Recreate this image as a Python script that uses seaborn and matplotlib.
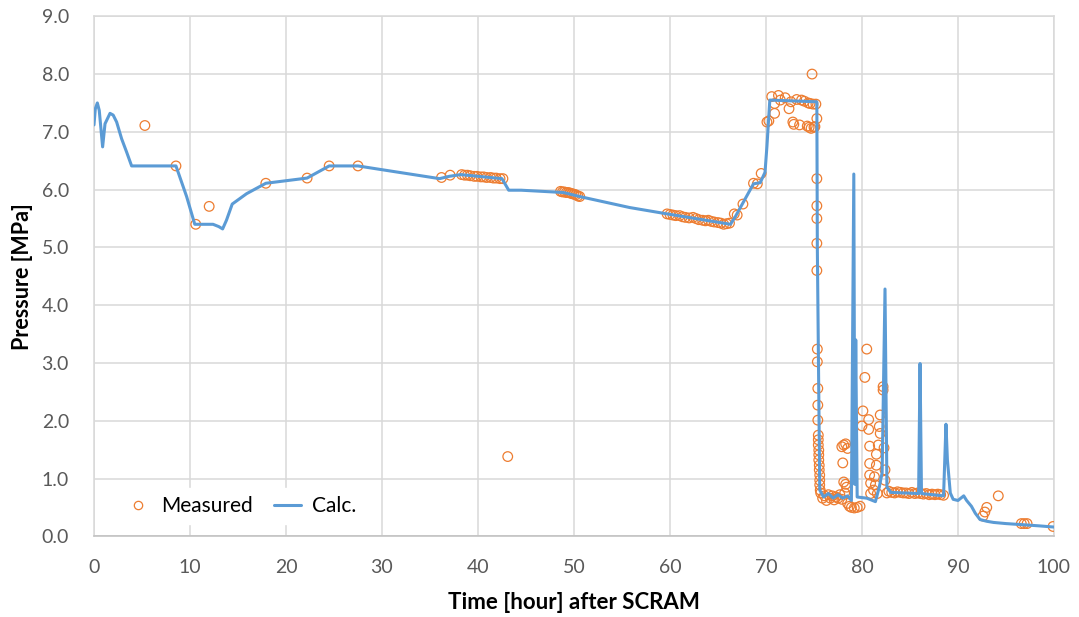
import matplotlib
matplotlib.use("Agg")
import matplotlib.pyplot as plt
import seaborn as sns
import pandas as pd
from matplotlib.lines import Line2D

# ---- Calculated pressure history ----
calc_time = [0.0, 0.14, 0.35, 0.55, 0.9, 1.15, 1.67, 2.0, 2.36, 2.88, 3.4, 3.92,
             8.54, 9.65, 10.5, 12.4, 13.0, 13.4, 13.8, 14.4, 15.9, 17.9, 22.2,
             24.5, 27.5, 29.8, 36.0, 37.0, 38.2, 42.5, 43.2, 44.5, 48.9, 50.6,
             55.8, 59.7, 66.3, 66.8, 67.7, 68.7, 69.4, 69.9, 70.1, 70.4, 75.3,
             75.35, 75.6, 76.0, 76.5, 77.0, 77.5, 78.0, 78.5, 78.9, 79.15, 79.25,
             79.35, 79.5, 80.5, 81.4, 81.8, 82.1, 82.4, 82.6, 83.0, 85.9, 86.05,
             86.2, 88.5, 88.75, 88.9, 89.2, 89.5, 90.0, 90.3, 90.6, 90.9, 91.4,
             91.8, 92.3, 93.0, 93.7, 95.0, 96.8, 98.5, 100.0]
calc_pressure = [7.12, 7.40, 7.50, 7.37, 6.74, 7.14, 7.32, 7.29, 7.17, 6.88, 6.65, 6.41,
                 6.41, 5.88, 5.40, 5.40, 5.36, 5.32, 5.47, 5.75, 5.93, 6.11, 6.20,
                 6.41, 6.41, 6.35, 6.19, 6.23, 6.26, 6.19, 5.99, 5.99, 5.95, 5.88,
                 5.69, 5.58, 5.40, 5.53, 5.80, 6.10, 6.12, 6.30, 6.75, 7.55, 7.52,
                 5.00, 0.80, 0.68, 0.74, 0.66, 0.72, 0.66, 0.70, 0.62, 6.27, 0.90,
                 3.40, 0.68, 0.66, 0.60, 0.85, 1.10, 4.28, 0.85, 0.76, 0.74, 2.99,
                 0.74, 0.70, 1.94, 1.32, 0.75, 0.64, 0.62, 0.66, 0.70, 0.62, 0.52,
                 0.40, 0.29, 0.26, 0.24, 0.22, 0.20, 0.18, 0.16]

# ---- Measured pressure ----
measured_time = [
    5.3, 8.54, 10.6, 12.0, 17.9, 22.2, 24.5, 27.5,
    36.2, 37.1, 38.3, 38.6, 38.9, 39.2, 39.6, 39.9, 40.3, 40.6, 40.9, 41.3,
    41.6, 41.9, 42.3, 42.6, 43.1,
    48.6, 48.8, 49.0, 49.2, 49.4, 49.6, 49.8, 50.0, 50.2, 50.4, 50.6,
    59.7, 60.0, 60.3, 60.6, 61.0, 61.3, 61.6, 62.0, 62.4, 62.7, 63.0, 63.4,
    63.7, 64.0, 64.3, 64.6, 65.0, 65.3, 65.6, 65.9, 66.2,
    66.7, 67.0, 67.6, 68.7, 69.1, 69.5, 70.1, 70.3,
    70.6, 70.9, 70.9, 71.3, 71.5, 72.0, 72.4, 72.6, 72.8, 72.9, 73.2, 73.5,
    73.7, 74.0, 74.3, 74.4, 74.5, 74.6, 74.7, 74.8, 74.9, 75.0, 75.1, 75.2,
    75.3, 75.3, 75.3, 75.3, 75.3, 75.3, 75.35, 75.35, 75.4, 75.4, 75.4,
    75.45, 75.45, 75.45, 75.5, 75.5, 75.5, 75.55, 75.55, 75.6, 75.6, 75.6, 75.65,
    75.7, 75.9, 76.1, 76.3, 76.5, 76.7, 76.9, 77.1, 77.3, 77.5, 77.7, 77.9,
    77.9, 78.1, 78.3, 78.5, 78.0, 78.1, 78.3, 78.4, 78.2,
    78.5, 78.7, 78.9, 79.2, 79.5, 79.8,
    80.5, 80.3, 80.1, 80.7, 80.0, 80.7, 80.8, 80.8, 80.8, 80.9, 80.9, 81.2,
    81.5, 81.5, 81.3, 81.4, 81.6,
    82.2, 82.2, 81.9, 81.8, 81.9, 81.7, 82.3, 82.4, 82.4, 82.6,
    82.8, 83.1, 83.4, 83.7, 84.0, 84.3, 84.6, 84.9, 85.2, 85.5, 85.8, 86.1,
    86.4, 86.7, 87.0, 87.3, 87.6, 87.9, 88.2, 88.5,
    92.6, 92.8, 93.0, 94.2, 96.6, 96.9, 97.2, 99.9]
measured_pressure = [
    7.11, 6.41, 5.40, 5.71, 6.11, 6.20, 6.41, 6.41,
    6.21, 6.25, 6.26, 6.25, 6.25, 6.24, 6.23, 6.23, 6.22, 6.22, 6.21, 6.21,
    6.20, 6.20, 6.19, 6.19, 1.38,
    5.97, 5.96, 5.96, 5.95, 5.95, 5.94, 5.93, 5.92, 5.91, 5.89, 5.88,
    5.58, 5.57, 5.56, 5.55, 5.55, 5.53, 5.52, 5.51, 5.52, 5.50, 5.48, 5.47,
    5.46, 5.47, 5.45, 5.44, 5.43, 5.42, 5.40, 5.41, 5.42,
    5.58, 5.56, 5.75, 6.11, 6.10, 6.28, 7.17, 7.19,
    7.61, 7.49, 7.32, 7.63, 7.55, 7.59, 7.40, 7.52, 7.17, 7.13, 7.56, 7.12,
    7.55, 7.53, 7.10, 7.50, 7.08, 7.49, 7.06, 8.00, 7.48, 7.08, 7.09, 7.48,
    7.23, 6.19, 5.72, 5.50, 5.07, 4.60, 3.24, 3.02, 2.56, 2.27, 2.01,
    1.75, 1.67, 1.58, 1.49, 1.41, 1.32, 1.23, 1.15, 1.06, 0.97, 0.89, 0.80,
    0.75, 0.66, 0.70, 0.62, 0.72, 0.66, 0.70, 0.63, 0.68, 0.66, 0.72, 0.64,
    1.55, 1.58, 1.60, 1.52, 1.27, 0.94, 0.90, 0.85, 0.75,
    0.57, 0.52, 0.50, 0.49, 0.50, 0.52,
    3.24, 2.75, 2.17, 2.02, 1.91, 1.85, 1.56, 1.26, 1.06, 0.92, 0.74, 0.80,
    1.42, 1.23, 1.03, 0.89, 0.74,
    2.59, 2.53, 2.10, 1.90, 1.78, 1.58, 1.53, 1.15, 0.97, 0.75,
    0.78, 0.76, 0.75, 0.77, 0.76, 0.75, 0.75, 0.74, 0.76, 0.74, 0.75, 0.74,
    0.73, 0.74, 0.72, 0.73, 0.72, 0.73, 0.72, 0.71,
    0.35, 0.42, 0.50, 0.70, 0.22, 0.22, 0.22, 0.17]

x_ticks = [0, 10, 20, 30, 40, 50, 60, 70, 80, 90, 100]
y_ticks = [0.0, 1.0, 2.0, 3.0, 4.0, 5.0, 6.0, 7.0, 8.0, 9.0]

ORANGE = "#ED7D31"
BLUE = "#5B9BD5"
GRID = "#D9D9D9"
TICK_TEXT = "#595959"

sns.set_theme(style="white")
plt.rcParams["font.family"] = ["Lato", "DejaVu Sans"]

calc_df = pd.DataFrame({"time": calc_time, "pressure": calc_pressure})
meas_df = pd.DataFrame({"time": measured_time, "pressure": measured_pressure})

fig = plt.figure(figsize=(10.79, 6.17), dpi=100)
ax = fig.add_axes([0.0871, 0.1308, 0.8897, 0.8428])

sns.scatterplot(data=meas_df, x="time", y="pressure", ax=ax, marker="o",
                s=48, color=ORANGE, facecolor="none", edgecolor=ORANGE,
                linewidth=0.9, zorder=3, legend=False)
sns.lineplot(data=calc_df, x="time", y="pressure", ax=ax, sort=False,
             estimator=None, color=BLUE, linewidth=2.2, zorder=4, legend=False)

ax.set_xlim(0, 100)
ax.set_ylim(0, 9)
ax.set_xticks(x_ticks)
ax.set_yticks(y_ticks)
ax.set_yticklabels([f"{v:.1f}" for v in y_ticks])
ax.grid(True, color=GRID, linewidth=1.1)
ax.set_axisbelow(True)
for side in ["left", "right", "top"]:
    ax.spines[side].set_color(GRID)
    ax.spines[side].set_linewidth(1.1)
ax.spines["bottom"].set_color("#BFBFBF")
ax.spines["bottom"].set_linewidth(1.1)
ax.tick_params(axis="both", length=0, labelsize=14, labelcolor=TICK_TEXT)
ax.tick_params(axis="x", pad=16)
ax.tick_params(axis="y", pad=18)

ax.set_xlabel("Time [hour] after SCRAM", fontsize=16, fontweight="bold",
              color="black", labelpad=12)
ax.set_ylabel("Pressure [MPa]", fontsize=15.5, fontweight="bold",
              color="black", labelpad=6)

handles = [
    Line2D([], [], linestyle="none", marker="o", markersize=6,
           markerfacecolor="none", markeredgecolor=ORANGE, markeredgewidth=0.9),
    Line2D([], [], color=BLUE, linewidth=2.2),
]
leg = ax.legend(handles, ["Measured", "Calc."], loc="center",
                bbox_to_anchor=(0.152, 0.058), ncol=2, fontsize=15,
                frameon=True, facecolor="white", edgecolor="white",
                framealpha=1.0, handlelength=1.3, handletextpad=0.5,
                columnspacing=1.0, borderpad=0.4)
leg.set_zorder(5)
for txt in leg.get_texts():
    txt.set_color("black")

fig.savefig("out.png", dpi=100)
